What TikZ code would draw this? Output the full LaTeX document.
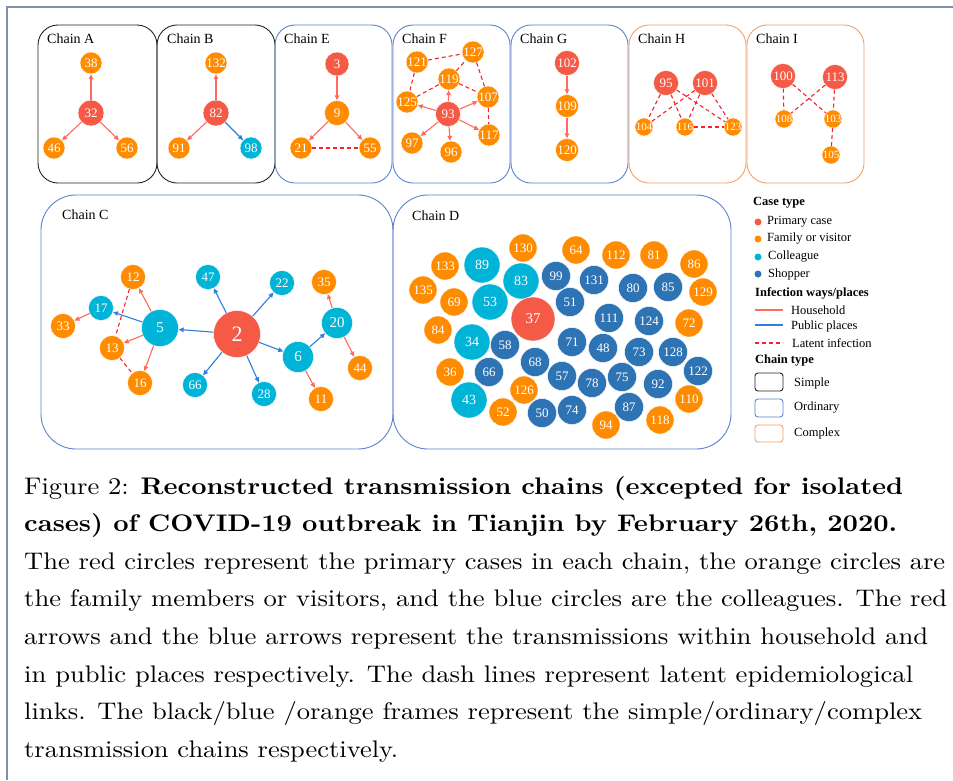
\documentclass[tikz,border=0pt]{standalone}
\usepackage{graphicx}
\usepackage{fontspec}
\setmainfont{lmroman10-regular}[Extension=.otf,BoldFont=lmroman10-bold]
\newfontfamily\tnr{Liberation Serif}
\usetikzlibrary{arrows.meta}
\definecolor{cpri}{HTML}{F55A46}
\definecolor{cfam}{HTML}{FF8C00}
\definecolor{ccol}{HTML}{00B4D8}
\definecolor{cshp}{HTML}{2E74B5}
\definecolor{chh}{HTML}{FF6A5A}
\definecolor{cpp}{HTML}{2F7FE0}
\definecolor{clat}{HTML}{F5222D}
\definecolor{csimp}{HTML}{222222}
\definecolor{cord}{HTML}{5B82D0}
\definecolor{ccomp}{HTML}{F2A066}
\definecolor{cframe}{HTML}{7F8FA8}
\newcommand{\capline}[2]{\resizebox{#1pt}{\height}{#2}}
\begin{document}
\begin{tikzpicture}[x=1pt,y=-1pt,
  cn/.style={circle,inner sep=0pt,text=white,draw=white,line width=0.4pt,font=\tnr\fontsize{13}{13}\selectfont},
  pri/.style={cn,fill=cpri},
  fam/.style={cn,fill=cfam},
  col/.style={cn,fill=ccol},
  shp/.style={cn,fill=cshp},
  sz/.style={minimum size=#1},
  fs/.style={font=\tnr\fontsize{#1}{#1}\selectfont},
  hh/.style={draw=chh,line width=1.1pt,-{Triangle[length=5pt,width=4.5pt]}},
  pp/.style={draw=cpp,line width=1.1pt,-{Triangle[length=5pt,width=4.5pt]}},
  lat/.style={draw=clat,line width=1.1pt,dash pattern=on 4pt off 3pt},
  simplebox/.style={draw=csimp,line width=0.9pt},
  ordbox/.style={draw=cord,line width=0.9pt},
  compbox/.style={draw=ccomp,line width=0.9pt},
  chlabel/.style={anchor=west,inner sep=0pt,font=\tnr\fontsize{14}{14}\selectfont},
  legtxt/.style={anchor=west,inner sep=0pt,font=\tnr\fontsize{12.5}{12.5}\selectfont},
  leghead/.style={anchor=west,inner sep=0pt,font=\tnr\bfseries\fontsize{12.5}{12.5}\selectfont},
  captxt/.style={anchor=base west,inner sep=0pt,font=\fontsize{24}{37.6}\selectfont},
]
\useasboundingbox (0,0) rectangle (953,780);
\fill[white] (0,0) rectangle (953,780);
% outer frame (top and left)
\draw[cframe,line width=1.4pt] (7,780) -- (7,7) -- (953,7);

% chain boxes
\draw[simplebox,rounded corners=20] (38,25) rectangle (157,183);
\draw[simplebox,rounded corners=20] (157,25) rectangle (275,183);
\draw[ordbox,rounded corners=20] (275,25) rectangle (392,183);
\draw[ordbox,rounded corners=20] (393,25) rectangle (510,183);
\draw[ordbox,rounded corners=20] (511,25) rectangle (628,183);
\draw[compbox,rounded corners=20] (629,25) rectangle (746,183);
\draw[compbox,rounded corners=20] (747,25) rectangle (864,183);
\draw[ordbox,rounded corners=35] (41,195) rectangle (393,449);
\draw[ordbox,rounded corners=35] (393,195) rectangle (731,449);

\node[chlabel] (lA) at (47,39) {Chain A};
\node[chlabel] (lB) at (167,39) {Chain B};
\node[chlabel] (lE) at (284,39) {Chain E};
\node[chlabel] (lF) at (402,39) {Chain F};
\node[chlabel] (lG) at (520,39) {Chain G};
\node[chlabel] (lH) at (638,39) {Chain H};
\node[chlabel] (lI) at (756,39) {Chain I};
\node[chlabel] (lC) at (62,215) {Chain C};
\node[chlabel] (lD) at (412,216) {Chain D};

% Chain A
\node[fam,sz=22] (a38) at (91,63) {38};
\node[pri,sz=26] (a32) at (91,113) {32};
\node[fam,sz=22] (a46) at (54,148) {46};
\node[fam,sz=22] (a56) at (127,148) {56};
\draw[hh] (a32) -- (a38);
\draw[hh] (a32) -- (a46);
\draw[hh] (a32) -- (a56);

% Chain B
\node[fam,sz=22] (b132) at (216,63) {132};
\node[pri,sz=26] (b82) at (216,113) {82};
\node[fam,sz=22] (b91) at (179,148) {91};
\node[col,sz=22] (b98) at (251,148) {98};
\draw[hh] (b82) -- (b132);
\draw[hh] (b82) -- (b91);
\draw[pp] (b82) -- (b98);

% Chain E
\node[pri,sz=24] (e3) at (337,64) {3};
\node[fam,sz=25] (e9) at (337,113) {9};
\node[fam,sz=22] (e21) at (301,148) {21};
\node[fam,sz=22] (e55) at (370,148) {55};
\draw[hh] (e3) -- (e9);
\draw[hh] (e9) -- (e21);
\draw[hh] (e9) -- (e55);
\draw[lat] (e21) -- (e55);

% Chain F
\node[fam,sz=22] (f121) at (417,62) {121};
\node[fam,sz=22] (f127) at (473,52) {127};
\node[fam,sz=22] (f119) at (449,79) {119};
\node[fam,sz=22] (f125) at (407,102) {125};
\node[pri,sz=25] (f93) at (448,114) {93};
\node[fam,sz=22] (f107) at (488,97) {107};
\node[fam,sz=22] (f117) at (489,135) {117};
\node[fam,sz=22] (f97) at (412,143) {97};
\node[fam,sz=22] (f96) at (451,152) {96};
\draw[lat] (f121) -- (f127);
\draw[lat] (f121) -- (f125);
\draw[lat] (f125) -- (f119);
\draw[lat] (f119) -- (f127);
\draw[lat] (f119) -- (f107);
\draw[lat] (f127) -- (f107);
\draw[lat] (f107) -- (f117);
\draw[hh] (f93) -- (f119);
\draw[hh] (f93) -- (f125);
\draw[hh] (f93) -- (f107);
\draw[hh] (f93) -- (f117);
\draw[hh] (f93) -- (f97);
\draw[hh] (f93) -- (f96);

% Chain G
\node[pri,sz=25] (g102) at (567,63) {102};
\node[fam,sz=23] (g109) at (567,106) {109};
\node[fam,sz=23] (g120) at (567,150) {120};
\draw[hh] (g102) -- (g109);
\draw[hh] (g109) -- (g120);

% Chain H
\node[pri,sz=25] (h95) at (666,83) {95};
\node[pri,sz=25] (h101) at (705,83) {101};
\node[fam,sz=18,fs=11] (h104) at (644,127) {104};
\node[fam,sz=18,fs=11] (h116) at (685,127) {116};
\node[fam,sz=18,fs=11] (h123) at (733,127) {123};
\draw[lat] (h95) -- (h104);
\draw[lat] (h95) -- (h116);
\draw[lat] (h95) -- (h123);
\draw[lat] (h101) -- (h104);
\draw[lat] (h101) -- (h116);
\draw[lat] (h101) -- (h123);
\draw[lat] (h116) -- (h123);

% Chain I
\node[pri,sz=25] (i100) at (783,76) {100};
\node[pri,sz=25] (i113) at (835,77) {113};
\node[fam,sz=18,fs=11] (i108) at (784,119) {108};
\node[fam,sz=18,fs=11] (i103) at (833,119) {103};
\node[fam,sz=18,fs=11] (i105) at (831,155) {105};
\draw[lat] (i100) -- (i108);
\draw[lat] (i100) -- (i103);
\draw[lat] (i113) -- (i108);
\draw[lat] (i113) -- (i103);
\draw[lat] (i103) -- (i105);

% Chain C
\node[fam,sz=25] (c12) at (133,277) {12};
\node[col,sz=25] (c47) at (208,277) {47};
\node[col,sz=25] (c22) at (282,283) {22};
\node[fam,sz=25] (c35) at (324,282) {35};
\node[col,sz=25] (c17) at (101,308) {17};
\node[fam,sz=25] (c33) at (63,326) {33};
\node[col,sz=37,fs=15] (c5) at (160,328) {5};
\node[pri,sz=47,fs=22] (c2) at (237,334) {2};
\node[col,sz=31,fs=15] (c20) at (337,323) {20};
\node[fam,sz=25] (c13) at (112,348) {13};
\node[col,sz=31,fs=15] (c6) at (298,357) {6};
\node[fam,sz=25] (c44) at (360,368) {44};
\node[fam,sz=25] (c16) at (140,383) {16};
\node[col,sz=25] (c66) at (195,385) {66};
\node[col,sz=25] (c28) at (264,394) {28};
\node[fam,sz=25] (c11) at (321,399) {11};
\draw[pp] (c2) -- (c5);
\draw[pp] (c2) -- (c47);
\draw[pp] (c2) -- (c22);
\draw[pp] (c2) -- (c6);
\draw[pp] (c2) -- (c66);
\draw[pp] (c2) -- (c28);
\draw[pp] (c5) -- (c17);
\draw[hh] (c5) -- (c12);
\draw[hh] (c5) -- (c13);
\draw[hh] (c5) -- (c16);
\draw[hh] (c17) -- (c33);
\draw[pp] (c6) -- (c20);
\draw[hh] (c6) -- (c11);
\draw[hh] (c20) -- (c35);
\draw[hh] (c20) -- (c44);
\draw[lat] (c12) -- (c13);
\draw[lat] (c13) -- (c16);

% Chain D
\node[fam,sz=28] (d130) at (523,248) {130};
\node[fam,sz=28] (d64) at (576,250) {64};
\node[fam,sz=28] (d112) at (616,255) {112};
\node[fam,sz=28] (d81) at (654,255) {81};
\node[fam,sz=28] (d86) at (694,264) {86};
\node[fam,sz=28] (d133) at (445,266) {133};
\node[col,sz=36,fs=14] (d89) at (482,265) {89};
\node[shp,sz=29] (d99) at (556,276) {99};
\node[shp,sz=29] (d131) at (594,280) {131};
\node[col,sz=36,fs=14] (d83) at (521,281) {83};
\node[shp,sz=29] (d80) at (633,288) {80};
\node[shp,sz=29] (d85) at (668,287) {85};
\node[fam,sz=28] (d129) at (703,292) {129};
\node[fam,sz=28] (d135) at (423,290) {135};
\node[fam,sz=28] (d69) at (454,302) {69};
\node[col,sz=36,fs=14] (d53) at (490,302) {53};
\node[shp,sz=29] (d51) at (570,302) {51};
\node[pri,sz=44,fs=15] (d37) at (533,319) {37};
\node[shp,sz=29] (d111) at (609,318) {111};
\node[shp,sz=29] (d124) at (649,321) {124};
\node[fam,sz=28] (d72) at (689,323) {72};
\node[fam,sz=28] (d84) at (438,330) {84};
\node[col,sz=36,fs=14] (d34) at (472,342) {34};
\node[shp,sz=29] (d58) at (505,345) {58};
\node[shp,sz=29] (d71) at (572,342) {71};
\node[shp,sz=29] (d48) at (603,348) {48};
\node[shp,sz=29] (d73) at (639,352) {73};
\node[shp,sz=29] (d128) at (673,352) {128};
\node[shp,sz=29] (d68) at (535,362) {68};
\node[fam,sz=28] (d36) at (450,372) {36};
\node[shp,sz=29] (d66) at (489,372) {66};
\node[shp,sz=29] (d122) at (698,371) {122};
\node[shp,sz=29] (d57) at (562,376) {57};
\node[shp,sz=29] (d75) at (622,377) {75};
\node[shp,sz=29] (d78) at (592,383) {78};
\node[shp,sz=29] (d92) at (658,384) {92};
\node[fam,sz=28] (d126) at (524,390) {126};
\node[col,sz=36,fs=14] (d43) at (469,400) {43};
\node[fam,sz=28] (d110) at (689,399) {110};
\node[shp,sz=29] (d87) at (629,407) {87};
\node[fam,sz=28] (d52) at (503,412) {52};
\node[shp,sz=29] (d50) at (542,413) {50};
\node[shp,sz=29] (d74) at (572,410) {74};
\node[fam,sz=28] (d118) at (660,420) {118};
\node[fam,sz=28] (d94) at (606,425) {94};

% Legend
\node[leghead] (h1) at (753,203) {Case type};
\fill[cpri] (758,222) circle (3.5);
\node[legtxt] (t1) at (767,222) {Primary case};
\fill[cfam] (758,239) circle (3.5);
\node[legtxt] (t2) at (767,239) {Family or visitor};
\fill[ccol] (758,257) circle (3.5);
\node[legtxt] (t3) at (768,257) {Colleague};
\fill[cshp] (758,274) circle (3.5);
\node[legtxt] (t4) at (768,274) {Shopper};
\node[leghead] (h2) at (755,293) {Infection ways/places};
\draw[chh,line width=1.1pt] (755,310) -- (783,310);
\node[legtxt] (t5) at (791,310) {Household};
\draw[cpp,line width=1.1pt] (755,325) -- (783,325);
\node[legtxt] (t6) at (791,326) {Public places};
\draw[clat,line width=1.1pt,dash pattern=on 4pt off 3pt] (755,343) -- (783,343);
\node[legtxt] (t7) at (792,343) {Latent infection};
\node[leghead] (h3) at (755,361) {Chain type};
\draw[simplebox,rounded corners=3] (755,373) rectangle (783,391);
\node[legtxt] (t8) at (794,383) {Simple};
\draw[ordbox,rounded corners=3] (755,399) rectangle (783,417);
\node[legtxt] (t9) at (794,408) {Ordinary};
\draw[compbox,rounded corners=3] (755,425) rectangle (783,442);
\node[legtxt] (t10) at (794,433) {Complex};

% Caption
\node[captxt] (k1) at (24,494) {\capline{879}{Figure 2: \textbf{Reconstructed transmission chains (excepted for isolated}}};
\node[captxt] (k2) at (24,531.6) {\capline{873}{\textbf{cases) of COVID-19 outbreak in Tianjin by February 26th, 2020.}}};
\node[captxt] (k3) at (24,569.2) {\capline{921}{The red circles represent the primary cases in each chain, the orange circles are}};
\node[captxt] (k4) at (24,606.8) {\capline{923}{the family members or visitors, and the blue circles are the colleagues. The red}};
\node[captxt] (k5) at (24,644.4) {\capline{904}{arrows and the blue arrows represent the transmissions within household and}};
\node[captxt] (k6) at (24,682) {\capline{889}{in public places respectively. The dash lines represent latent epidemiological}};
\node[captxt] (k7) at (24,719.6) {\capline{898}{links. The black/blue /orange frames represent the simple/ordinary/complex}};
\node[captxt] (k8) at (24,757.2) {\capline{374}{transmission chains respectively.}};
\end{tikzpicture}
\end{document}
